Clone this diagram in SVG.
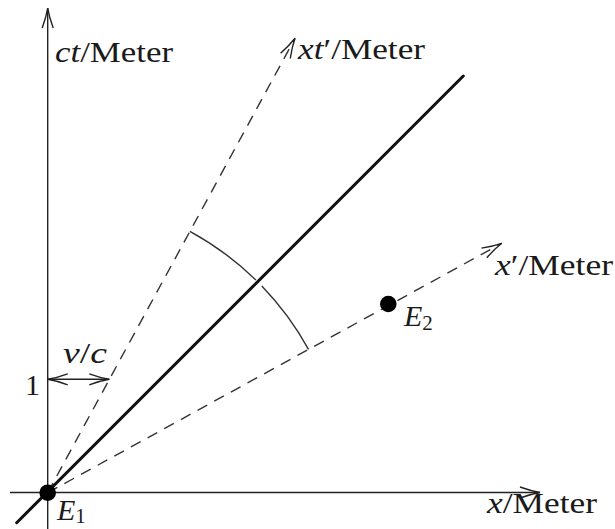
<svg xmlns="http://www.w3.org/2000/svg" width="615" height="529" viewBox="0 0 615 529">
  <style>
    .ax { stroke: #222; stroke-width: 1.4; fill: none; }
    .dash { stroke: #333; stroke-width: 1.4; fill: none; stroke-dasharray: 11 8; }
    .bold { stroke: #111; stroke-width: 3; fill: none; stroke-linecap: round; }
    .arc { stroke: #333; stroke-width: 1.4; fill: none; }
    .lbl { font-family: "Liberation Serif", "Times New Roman", serif; font-size: 30px; fill: #1a1a1a; }
    .it { font-style: italic; }
    .sub { font-size: 21px; }
    .dot { fill: #000; }
  </style>
  <defs>
    <marker id="ah" markerUnits="userSpaceOnUse" markerWidth="30" markerHeight="16" viewBox="-22 -8 24 16" refX="0" refY="0" orient="auto">
      <path d="M -20 -5.5 Q -9 -1.5 0 0 Q -9 1.5 -20 5.5" fill="none" stroke="#222" stroke-width="1.4" stroke-dasharray="none"/>
    </marker>
    <marker id="ahs" markerUnits="userSpaceOnUse" markerWidth="30" markerHeight="16" viewBox="-22 -8 24 16" refX="0" refY="0" orient="auto-start-reverse">
      <path d="M -20 -5.5 Q -9 -1.5 0 0 Q -9 1.5 -20 5.5" fill="none" stroke="#222" stroke-width="1.4" stroke-dasharray="none"/>
    </marker>
  </defs>

  <g id="connectors">
    <line id="ct-axis" class="ax" x1="47.7" y1="529" x2="47.7" y2="8" marker-end="url(#ah)"/>
    <line id="x-axis" class="ax" x1="10" y1="492.5" x2="540" y2="492.5" marker-end="url(#ah)"/>
    <line id="ctp-axis" class="dash" x1="47.7" y1="492.7" x2="295" y2="38.3" marker-end="url(#ah)"/>
    <line id="xp-axis" class="dash" x1="47.7" y1="492.7" x2="501.7" y2="243.3" marker-end="url(#ah)"/>
    <line id="light-line" class="bold" x1="16.7" y1="522.7" x2="463.3" y2="76"/>
    <path id="arc1" class="arc" d="M 189.9 231.3 A 297.6 297.6 0 0 1 255.9 280.1"/>
    <path id="arc2" class="arc" d="M 261.8 286.0 A 297.6 297.6 0 0 1 308.5 349.4"/>
    <line id="vc-arrow" class="ax" x1="47.7" y1="379.3" x2="109.3" y2="379.3" marker-start="url(#ahs)" marker-end="url(#ahs)"/>
  </g>

  <g id="E1">
    <circle class="dot" cx="47.7" cy="492.7" r="8.3"/>
    <text class="lbl" x="57" y="520"><tspan class="it">E</tspan><tspan class="sub" dy="3">1</tspan></text>
  </g>
  <g id="E2">
    <circle class="dot" cx="388.3" cy="304" r="8.3"/>
    <text class="lbl" x="404" y="326"><tspan class="it">E</tspan><tspan class="sub" dy="4">2</tspan></text>
  </g>

  <g id="labels">
    <text class="lbl" x="55" y="62" textLength="118" lengthAdjust="spacingAndGlyphs"><tspan class="it">ct</tspan>/Meter</text>
    <text class="lbl" x="298" y="59" textLength="127" lengthAdjust="spacingAndGlyphs"><tspan class="it">xt</tspan>′/Meter</text>
    <text class="lbl" x="495" y="275" textLength="118" lengthAdjust="spacingAndGlyphs"><tspan class="it">x</tspan>′/Meter</text>
    <text class="lbl" x="487" y="513" textLength="110" lengthAdjust="spacingAndGlyphs"><tspan class="it">x</tspan>/Meter</text>
    <text class="lbl" x="63" y="363" textLength="44" lengthAdjust="spacingAndGlyphs"><tspan class="it">v</tspan>/<tspan class="it">c</tspan></text>
    <text class="lbl" x="25" y="395">1</text>
  </g>
</svg>
